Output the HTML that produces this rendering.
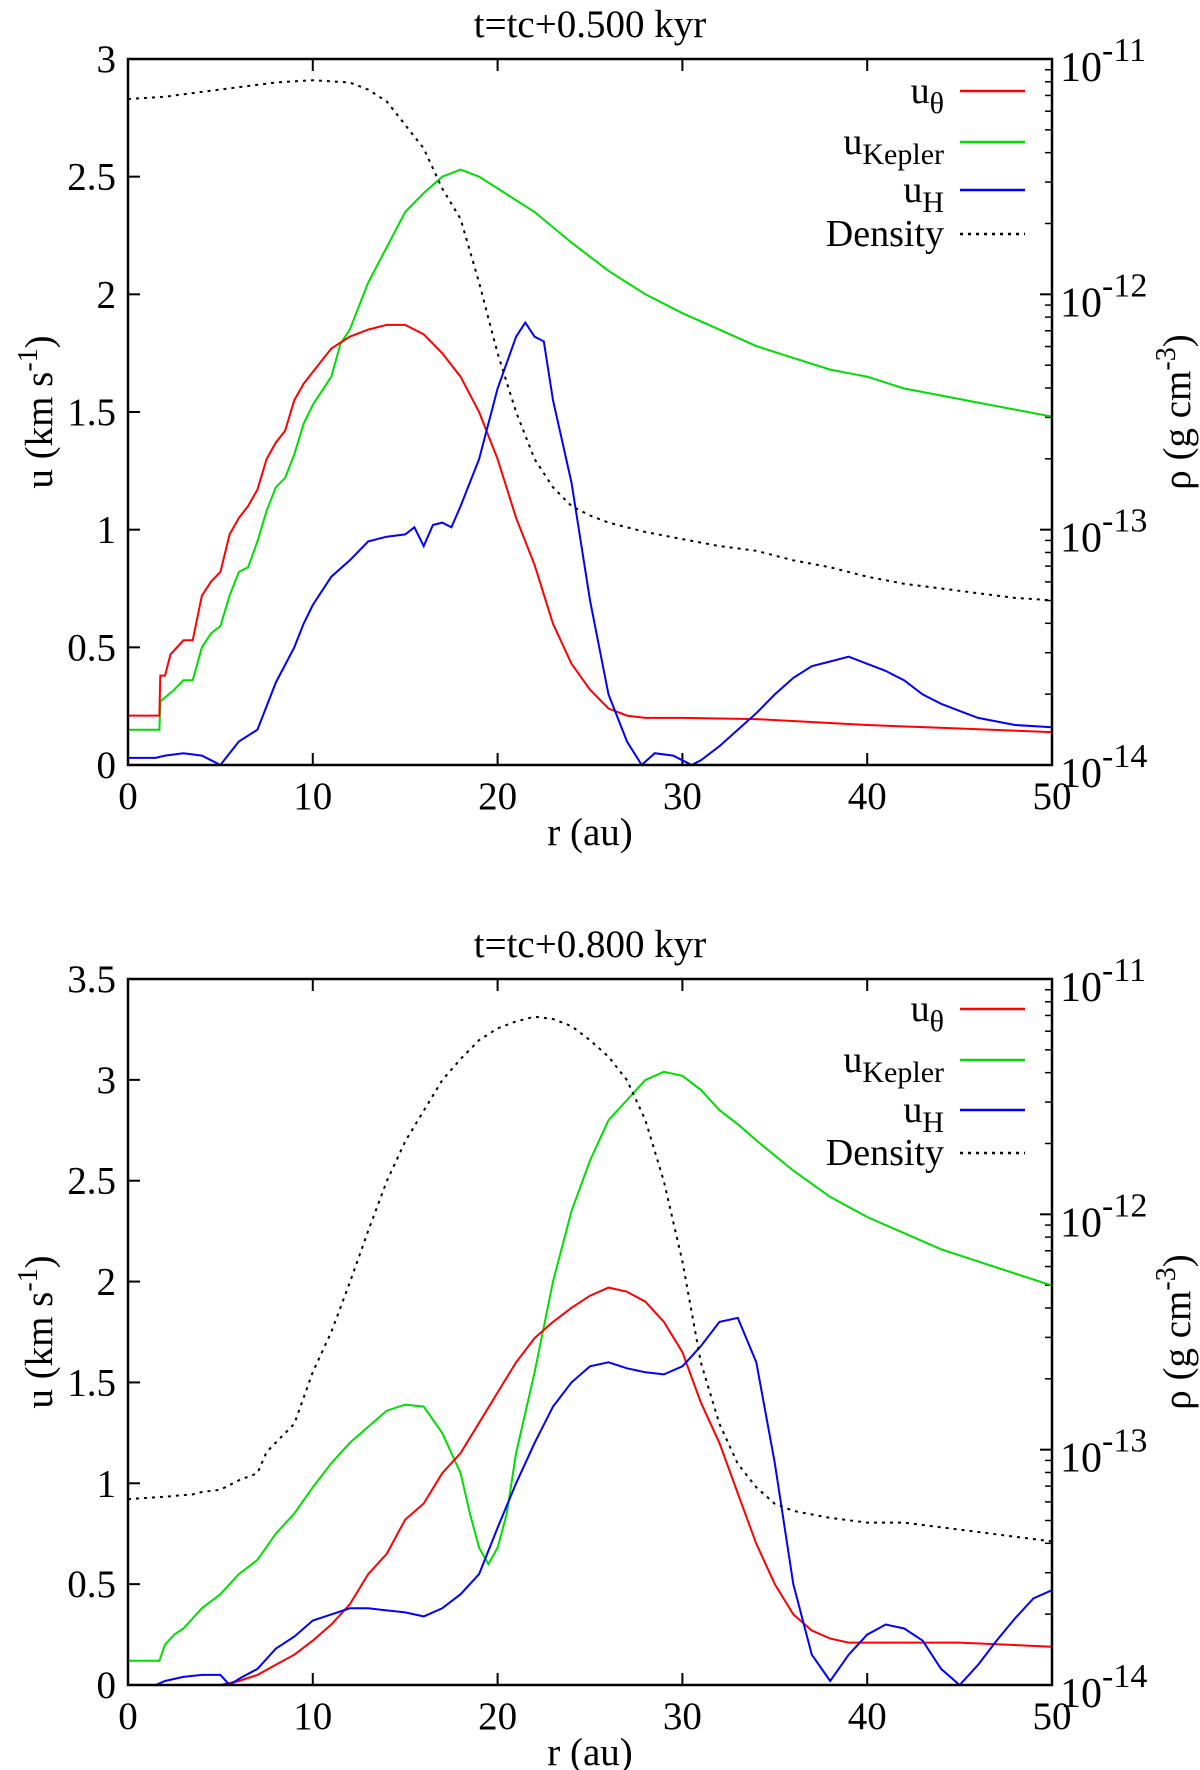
<!DOCTYPE html>
<html><head><meta charset="utf-8"><style>
html,body{margin:0;padding:0;background:#fff;}
svg{display:block;font-family:"Liberation Serif","DejaVu Serif",serif;}
</style></head><body>
<svg id="fig" width="1200" height="1770" viewBox="0 0 1200 1770" xmlns="http://www.w3.org/2000/svg"></svg>
<script>
// ---------- Panel 1 data (t=tc+0.500 kyr) ----------
const p1ThetaR = [0,1.7,1.75,2,2.3,3,3.5,4,4.5,5,5.5,6,6.5,7,7.5,8,8.5,9,9.5,10,11,12,13,14,15,16,17,18,19,20,21,22,23,24,25,26,27,28,30,34,40,45,50];
const p1ThetaU = [0.21,0.21,0.38,0.38,0.47,0.53,0.53,0.72,0.78,0.82,0.98,1.05,1.1,1.17,1.3,1.37,1.42,1.55,1.62,1.67,1.77,1.82,1.85,1.87,1.87,1.83,1.75,1.65,1.5,1.3,1.05,0.85,0.6,0.43,0.32,0.24,0.21,0.2,0.2,0.195,0.17,0.155,0.14];
const p1KepR = [0,1.7,1.75,2.5,3,3.5,4,4.5,5,5.5,6,6.5,7,7.5,8,8.5,9,9.5,10,11,11.5,12,13,14,15,16,17,18,19,20,22,24,26,28,30,32,34,36,38,40,42,44,46,48,50];
const p1KepU = [0.15,0.15,0.27,0.32,0.36,0.36,0.5,0.56,0.59,0.72,0.82,0.84,0.95,1.08,1.18,1.22,1.32,1.45,1.53,1.65,1.79,1.85,2.05,2.2,2.35,2.43,2.5,2.53,2.5,2.45,2.35,2.22,2.1,2.0,1.92,1.85,1.78,1.73,1.68,1.65,1.6,1.57,1.54,1.51,1.48];
const p1HR = [0,1.5,2,3,4,4.5,5,5.5,6,7,7.5,8,9,9.5,10,11,12,13,14,15,15.5,16,16.5,17,17.5,18,19,20,21,21.5,22,22.5,23,24,25,26,27,27.8,28.5,29.5,30,30.5,31,32,33,34,35,36,37,38,39,40,41,42,43,44,45,46,48,50];
const p1HU = [0.03,0.03,0.04,0.05,0.04,0.02,0,0.05,0.1,0.15,0.25,0.35,0.5,0.6,0.68,0.8,0.87,0.95,0.97,0.98,1.01,0.93,1.02,1.03,1.01,1.1,1.3,1.6,1.82,1.88,1.82,1.8,1.55,1.2,0.7,0.3,0.1,0,0.05,0.04,0.02,0,0.02,0.08,0.15,0.22,0.3,0.37,0.42,0.44,0.46,0.43,0.4,0.36,0.3,0.26,0.23,0.2,0.17,0.16];
const p1DenR = [0,2,4,6,8,10,12,13,14,15,16,17,18,19,20,21,22,23,24,25,26,28,30,32,34,36,38,40,42,44,46,48,50];
const p1DenLog = [-11.17,-11.16,-11.14,-11.12,-11.1,-11.09,-11.1,-11.13,-11.18,-11.28,-11.38,-11.55,-11.68,-11.95,-12.25,-12.5,-12.7,-12.82,-12.9,-12.94,-12.97,-13.01,-13.04,-13.07,-13.09,-13.13,-13.16,-13.2,-13.23,-13.25,-13.27,-13.29,-13.3];
// ---------- Panel 2 data (t=tc+0.800 kyr) ----------
const p2ThetaR = [0,5,6,7,8,9,10,11,12,13,14,15,16,17,18,19,20,21,22,23,24,25,26,27,28,29,30,31,32,33,34,35,36,37,38,39,40,45,50];
const p2ThetaU = [0,0,0.02,0.05,0.1,0.15,0.22,0.3,0.4,0.55,0.65,0.82,0.9,1.05,1.15,1.3,1.45,1.6,1.72,1.8,1.87,1.93,1.97,1.95,1.9,1.8,1.65,1.4,1.2,0.95,0.7,0.5,0.35,0.27,0.23,0.21,0.21,0.21,0.19];
const p2KepR = [0,1.7,2,2.5,3,4,5,6,7,8,9,10,11,12,13,14,15,16,17,18,18.5,19,19.5,20,20.5,21,22,23,24,25,26,27,28,29,30,31,32,33,34,36,38,40,42,44,46,48,50];
const p2KepU = [0.12,0.12,0.2,0.25,0.28,0.38,0.45,0.55,0.62,0.75,0.85,0.98,1.1,1.2,1.28,1.36,1.39,1.38,1.25,1.05,0.85,0.68,0.6,0.68,0.85,1.15,1.55,2.0,2.35,2.6,2.8,2.9,3.0,3.04,3.02,2.95,2.85,2.78,2.7,2.55,2.42,2.32,2.24,2.16,2.1,2.04,1.98];
const p2HR = [0,1.5,2,3,4,5,5.5,6,7,8,9,10,11,12,13,14,15,16,17,18,19,20,21,22,23,24,25,26,27,28,29,30,31,32,33,34,35,36,37,38,39,40,41,42,43,44,45,46,47,48,49,50];
const p2HU = [0,0,0.02,0.04,0.05,0.05,0,0.03,0.08,0.18,0.24,0.32,0.35,0.38,0.38,0.37,0.36,0.34,0.38,0.45,0.55,0.78,1.0,1.2,1.38,1.5,1.58,1.6,1.57,1.55,1.54,1.58,1.68,1.8,1.82,1.6,1.1,0.5,0.15,0.02,0.15,0.25,0.3,0.28,0.22,0.08,0,0.1,0.22,0.33,0.43,0.47];
const p2DenR = [0,2,3.5,4,5,6,7,7.5,8,9,10,11,12,13,14,15,16,17,18,19,20,21,22,23,24,25,26,27,28,29,30,31,32,33,34,35,36,38,40,42,44,46,48,50];
const p2DenLog = [-13.21,-13.2,-13.19,-13.18,-13.17,-13.13,-13.1,-13.01,-12.97,-12.89,-12.67,-12.5,-12.29,-12.07,-11.86,-11.69,-11.56,-11.43,-11.34,-11.26,-11.21,-11.18,-11.16,-11.17,-11.2,-11.26,-11.33,-11.43,-11.6,-11.86,-12.2,-12.63,-12.89,-13.06,-13.16,-13.23,-13.26,-13.29,-13.31,-13.31,-13.33,-13.35,-13.37,-13.39];
const xTicks = [0,10,20,30,40,50];
const p1YTicks = [0,0.5,1,1.5,2,2.5,3];
const p1YLabels = ["0","0.5","1","1.5","2","2.5","3"];
const p2YTicks = [0,0.5,1,1.5,2,2.5,3,3.5];
const p2YLabels = ["0","0.5","1","1.5","2","2.5","3","3.5"];
const rhoDecades = [-14,-13,-12,-11];

const NS="http://www.w3.org/2000/svg";
const svg=document.getElementById('fig');
function mk(tag,attrs,parent){const e=document.createElementNS(NS,tag);for(const k in attrs)e.setAttribute(k,attrs[k]);(parent||svg).appendChild(e);return e;}

function panel(id,top,title,yMax,yTicks,yLabels,series,den,denR,legendYs){
  const L=128,R=1052,T=top,B=top+706;
  const g=mk('g',{});
  
  
  const xs=v=>L+(v/50)*(R-L);
  const ys=v=>B-(v/yMax)*(B-T);
  const yr=lg=>B-((lg+14)/3)*(B-T);
  const t=mk('text',{x:590,y:top-22,'font-size':39,'text-anchor':'middle'},g);
  t.textContent=title;
  
  
  xTicks.forEach(v=>{
    const x=xs(v);
    mk('line',{x1:x,y1:B,x2:x,y2:B-12,stroke:'#000','stroke-width':2},g);
    mk('line',{x1:x,y1:T,x2:x,y2:T+12,stroke:'#000','stroke-width':2},g);
    const tx=mk('text',{x:x,y:B+44,'font-size':39,'text-anchor':'middle'},g);
    tx.textContent=String(v);
    
    
  });
  yTicks.forEach((v,i)=>{
    const y=ys(v);
    mk('line',{x1:L,y1:y,x2:L+12,y2:y,stroke:'#000','stroke-width':2},g);
    const ty=mk('text',{x:L-12,y:y+13,'font-size':39,'text-anchor':'end'},g);
    ty.textContent=yLabels[i];
    
    
  });
  rhoDecades.forEach((d,i)=>{
    const y=yr(d);
    mk('line',{x1:R,y1:y,x2:R-12,y2:y,stroke:'#000','stroke-width':2},g);
    if(i<3){for(let m=2;m<10;m++){const yy=yr(d+Math.log10(m));mk('line',{x1:R,y1:yy,x2:R-7,y2:yy,stroke:'#000','stroke-width':1.5},g);}}
    const tr=mk('text',{x:R+8,y:y+22,'font-size':42},g);
    tr.innerHTML='10<tspan dy="-20" font-size="34">'+String(d)+'</tspan>';
    
    
  });
  const xl=mk('text',{x:590,y:B+80,'font-size':39,'text-anchor':'middle'},g);
  xl.textContent='r (au)';
  
  
  const yl=mk('text',{x:0,y:0,'font-size':39,'text-anchor':'middle',transform:`translate(52,${(T+B)/2}) rotate(-90)`},g);
  yl.innerHTML='u (km s<tspan dy="-15" font-size="28">-1</tspan><tspan dy="15">)</tspan>';
  
  
  const rl=mk('text',{x:0,y:0,'font-size':39,'text-anchor':'middle',transform:`translate(1190,${(T+B)/2}) rotate(-90)`},g);
  rl.innerHTML='ρ (g cm<tspan dy="-15" font-size="28">-3</tspan><tspan dy="15">)</tspan>';
  
  
  const clip=mk('clipPath',{id:'c'+id},g);mk('rect',{x:L,y:T,width:R-L,height:B-T},clip);
  series.forEach(s=>{
    const p=mk('polyline',{points:s.r.map((r,i)=>xs(r).toFixed(1)+','+ys(s.u[i]).toFixed(1)).join(' '),fill:'none',stroke:s.c,'stroke-width':2,'clip-path':`url(#c${id})`},g);
    
    
  });
  const dp=mk('polyline',{points:denR.map((r,i)=>xs(r).toFixed(1)+','+yr(den[i]).toFixed(1)).join(' '),fill:'none',stroke:'#000','stroke-width':2,'stroke-dasharray':'3,5'},g);
  
  
  const fr=mk('rect',{x:L,y:T,width:R-L,height:B-T,fill:'none',stroke:'#000','stroke-width':2.5},g);
  
  
  const leg=[['u','θ','#f00',''],['u','Kepler','#0d0',''],['u','H','#00f',''],['Density','','#000','3,5']];
  leg.forEach((e,i)=>{
    const y=legendYs[i];
    const lt=mk('text',{x:944,y:y+12,'font-size':38,'text-anchor':'end'},g);
    lt.innerHTML=e[1]?`${e[0]}<tspan dy="10" font-size="30">${e[1]}</tspan>`:e[0];
    
    
    const ll=mk('line',{x1:960,y1:y,x2:1025,y2:y,stroke:e[2],'stroke-width':2.5},g);
    if(e[3])ll.setAttribute('stroke-dasharray',e[3]);
    
    
  });
}
panel('panel-top',59,'t=tc+0.500 kyr',3,p1YTicks,p1YLabels,[
  {r:p1KepR,u:p1KepU,c:'#0d0',n:'u-kepler-line'},
  {r:p1ThetaR,u:p1ThetaU,c:'#f00',n:'u-theta-line'},
  {r:p1HR,u:p1HU,c:'#00f',n:'u-h-line'}],p1DenLog,p1DenR,[91,142,190,234]);
panel('panel-bottom',979,'t=tc+0.800 kyr',3.5,p2YTicks,p2YLabels,[
  {r:p2KepR,u:p2KepU,c:'#0d0',n:'u-kepler-line'},
  {r:p2ThetaR,u:p2ThetaU,c:'#f00',n:'u-theta-line'},
  {r:p2HR,u:p2HU,c:'#00f',n:'u-h-line'}],p2DenLog,p2DenR,[1009,1060,1110,1153]);
</script>
</body></html>
